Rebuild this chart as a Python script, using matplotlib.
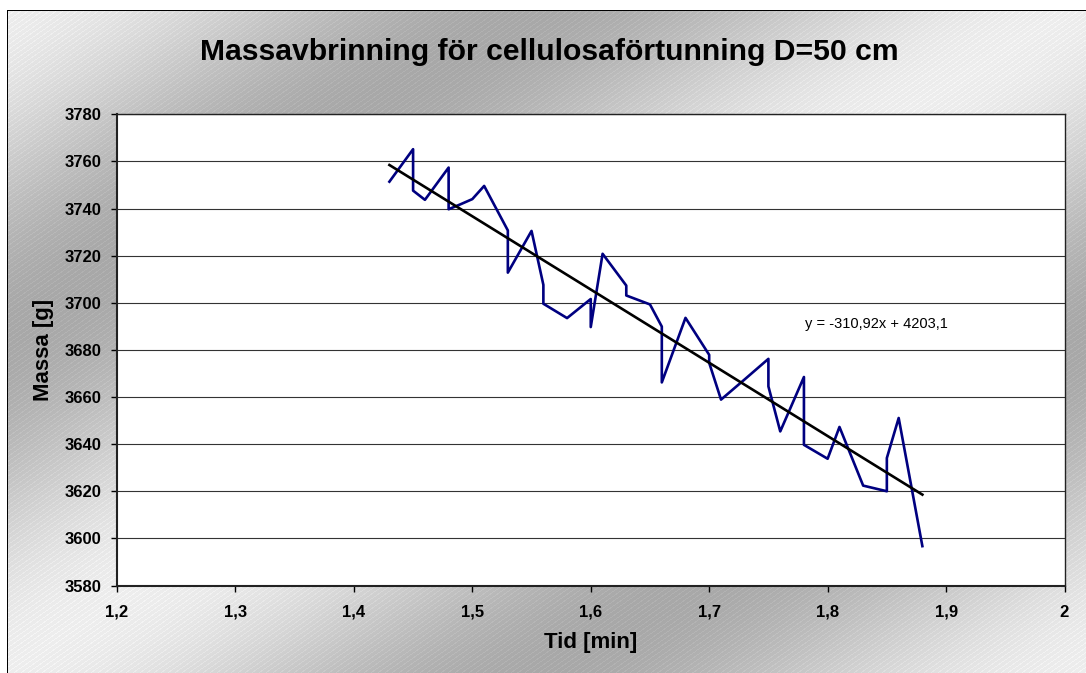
import numpy as np
import matplotlib
matplotlib.use('Agg')
import matplotlib.pyplot as plt

plt.rcParams['font.family'] = ['Liberation Sans', 'DejaVu Sans']

# mätdata
tid = [1.43, 1.45, 1.45, 1.46, 1.48, 1.48, 1.49, 1.50, 1.51, 1.53, 1.53, 1.55, 1.56, 1.56,
       1.58, 1.60, 1.60, 1.61, 1.63, 1.63, 1.65, 1.66, 1.66, 1.68, 1.70, 1.70, 1.71, 1.73,
       1.75, 1.75, 1.76, 1.78, 1.78, 1.80, 1.81, 1.83, 1.85, 1.85, 1.86, 1.88]
massa = [3751.4, 3765.2, 3747.6, 3743.7, 3757.4, 3739.7, 3741.8, 3744.0, 3749.6, 3730.7,
         3712.8, 3730.5, 3707.6, 3699.6, 3693.5, 3701.6, 3689.7, 3720.8, 3707.3, 3703.1,
         3699.3, 3689.9, 3666.2, 3693.6, 3677.9, 3674.5, 3658.9, 3667.5, 3676.2, 3664.5,
         3645.4, 3668.5, 3639.7, 3633.8, 3647.3, 3622.4, 3620.0, 3634.1, 3651.1, 3596.7]

# linjär trendlinje (från Excel)
k, m = -310.92, 4203.1
trend_label = 'y = -310,92x + 4203,1'

xticks = [1.2, 1.3, 1.4, 1.5, 1.6, 1.7, 1.8, 1.9, 2.0]
xticklabels = ['1,2', '1,3', '1,4', '1,5', '1,6', '1,7', '1,8', '1,9', '2']
yticks = list(range(3580, 3781, 20))

W, H = 1086, 673
fig = plt.figure(figsize=(W / 100, H / 100), dpi=100)

# bakgrund: diagonal grå gradient med tunna ljusa streck
yy, xx = np.mgrid[0:H, 0:W].astype(float)
s = xx / W + yy / H
light, dark = 0.93, 0.66
v = dark + (light - dark) * (0.5 + 0.5 * np.cos(2 * np.pi * s))
stripes = np.mod(0.7 * xx + yy, 4.9) < 1.1
v = v + 0.035 * stripes
v[:, :7] = 1.0
v[:10, :] = 1.0
v[10:, 7] = 0.0
v[10, 7:] = 0.0
bg = np.clip(np.dstack([v, v, v]), 0, 1)
bax = fig.add_axes([0, 0, 1, 1])
bax.imshow(bg, extent=[0, W, H, 0], interpolation='nearest', aspect='auto')
bax.axis('off')

left, right, top, bottom = 117, 1064.5, 114.3, 585.5
ax = fig.add_axes([left / W, 1 - bottom / H, (right - left) / W, (bottom - top) / H])
ax.set_facecolor('white')

ax.plot(tid, massa, color='#000080', lw=1.9, zorder=3)
tx = np.array([min(tid), max(tid)])
ax.plot(tx, k * tx + m, color='black', lw=1.9, zorder=4)
ax.text(1.781, 3691, trend_label, fontsize=10.5, va='center', ha='left')

ax.set_xlim(1.2, 2.0)
ax.set_ylim(3580, 3780)
ax.set_xticks(xticks)
ax.set_xticklabels(xticklabels)
ax.set_yticks(yticks)
ax.yaxis.grid(True, color='#333333', lw=0.8)
ax.set_axisbelow(True)

for lab in ax.get_xticklabels() + ax.get_yticklabels():
    lab.set_fontweight('bold')
ax.tick_params(axis='x', direction='out', length=4, width=1, pad=10, labelsize=12)
ax.tick_params(axis='y', direction='out', length=4, width=1, pad=7, labelsize=12)

for sp in ax.spines.values():
    sp.set_color('#222222')
    sp.set_linewidth(1.0)
ax.spines['left'].set_linewidth(1.5)
ax.spines['bottom'].set_linewidth(1.5)

ax.set_xlabel('Tid [min]', fontsize=16, fontweight='bold', labelpad=9)
ax.set_ylabel('Massa [g]', fontsize=16, fontweight='bold', labelpad=8)

fig.text(0.506, 1 - 52 / H, 'Massavbrinning för cellulosaförtunning D=50 cm',
         fontsize=21.7, fontweight='bold', ha='center', va='center')

fig.savefig('out.png', dpi=100)
